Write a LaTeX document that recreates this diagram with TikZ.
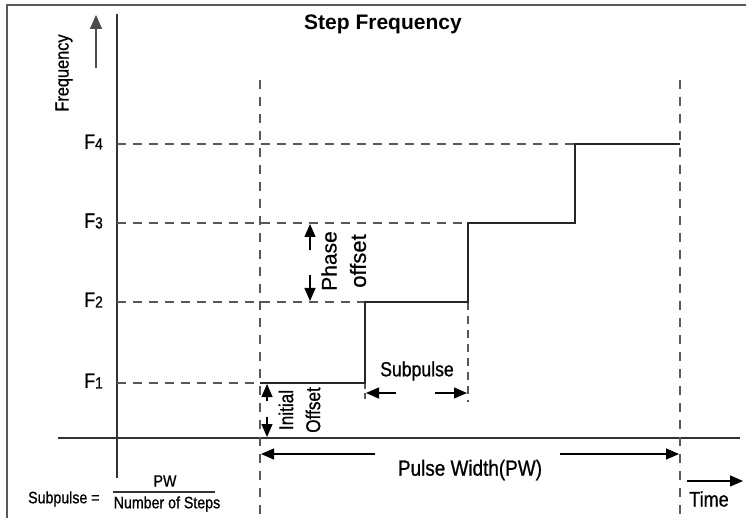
\documentclass[tikz,border=0pt]{standalone}
\usepackage{fontspec}
\setmainfont{Liberation Sans}[FakeStretch=0.86,FakeBold=0.8]
\newfontfamily\widesans{Liberation Sans}[FakeBold=0.6]
\newfontfamily\titlesans{Liberation Sans}
\usetikzlibrary{arrows.meta}
\begin{document}
\begin{tikzpicture}[x=1pt,y=-1pt,
  axis/.style={draw=black!80,line width=2.2pt},
  frame/.style={draw=black!65,line width=1.4pt},
  guide/.style={draw=black!65,line width=1.6pt,dash pattern=on 9pt off 7pt},
  vguide/.style={draw=black!65,line width=1.6pt,dash pattern=on 9pt off 8pt},
  stepline/.style={draw=black!85,line width=1.8pt},
  arr/.style={draw=black,line width=1.2pt,-{Triangle[length=13pt,width=11pt]}},
  lbl/.style={inner sep=0pt,font=\fontsize{20}{20}\selectfont},
  flbl/.style={inner sep=0pt,anchor=east,font=\fontsize{21}{21}\selectfont},
]
\useasboundingbox (0,0) rectangle (746,518);
\fill[white] (0,0) rectangle (746,518);
% frame
\coordinate (fr1) at (746,5);
\coordinate (fr2) at (7,5);
\coordinate (fr3) at (7,518);
\draw[frame] (fr1) -- (fr2) -- (fr3);
% axes
\coordinate (yTop) at (117,14);
\coordinate (yBot) at (117,478);
\coordinate (xL) at (58,438);
\coordinate (xR) at (740,438);
\draw[axis] (yTop) -- (yBot);
\draw[axis] (xL) -- (xR);
% title
\node[lbl,font=\titlesans\fontsize{21}{21}\selectfont\bfseries] (title) at (383,24) {Step Frequency};
% frequency label and arrow
\node[lbl,font=\fontsize{19}{19}\selectfont,rotate=90] (freq) at (64,73) {Frequency};
\coordinate (fa1) at (96,68);
\coordinate (fa2) at (96,15);
\draw[arr,draw=black!70,line width=1.6pt,-{Triangle[length=14pt,width=12pt]}] (fa1) -- (fa2);
% frequency level points
\coordinate (a1) at (117,383);
\coordinate (a2) at (117,302);
\coordinate (a3) at (117,223);
\coordinate (a4) at (117,144);
\node[flbl] (F1) at (103,381) {F\raisebox{-0.5pt}{\fontsize{16}{16}\selectfont 1}};
\node[flbl] (F2) at (103,300) {F\raisebox{-0.5pt}{\fontsize{16}{16}\selectfont 2}};
\node[flbl] (F3) at (103,221) {F\raisebox{-0.5pt}{\fontsize{16}{16}\selectfont 3}};
\node[flbl] (F4) at (103,142) {F\raisebox{-0.5pt}{\fontsize{16}{16}\selectfont 4}};
% step corners
\coordinate (s1) at (260,383);
\coordinate (s2) at (365,383);
\coordinate (s3) at (365,302);
\coordinate (s4) at (468,302);
\coordinate (s5) at (468,223);
\coordinate (s6) at (575,223);
\coordinate (s7) at (575,144);
\coordinate (s8) at (680,144);
\draw[guide] (a1) -- (s1);
\draw[guide] (a2) -- (s3);
\draw[guide] (a3) -- (s5);
\draw[guide] (a4) -- (s7);
% vertical guides
\coordinate (vL1) at (260,80);
\coordinate (vL2) at (260,518);
\coordinate (vR1) at (680,80);
\coordinate (vR2) at (680,518);
\draw[vguide] (vL1) -- (vL2);
\draw[vguide] (vR1) -- (vR2);
\coordinate (v3b) at (365,402);
\coordinate (v4b) at (468,402);
\draw[vguide,dash pattern=on 6pt off 4pt] (s2) -- (v3b);
\draw[vguide,dash pattern=on 8pt off 6pt] (s4) -- (v4b);
% step line
\draw[stepline] (s1) -- (s2) -- (s3) -- (s4) -- (s5) -- (s6) -- (s7) -- (s8);
% subpulse
\coordinate (sp1) at (396,393);
\coordinate (sp2) at (366,393);
\coordinate (sp3) at (435,393);
\coordinate (sp4) at (467,393);
\draw[arr] (sp1) -- (sp2);
\draw[arr] (sp3) -- (sp4);
\node[lbl,font=\fontsize{20.5}{20.5}\selectfont] (subp) at (417,371) {Subpulse};
% initial offset
\coordinate (io1) at (267,401);
\coordinate (io2) at (267,384);
\coordinate (io3) at (267,417);
\coordinate (io4) at (267,437);
\draw[arr] (io1) -- (io2);
\draw[arr] (io3) -- (io4);
\node[lbl,rotate=90,font=\fontsize{20}{20}\selectfont] (init) at (286,410) {Initial};
\node[lbl,rotate=90,font=\fontsize{20}{20}\selectfont] (offs) at (313,410) {Offset};
% phase offset
\coordinate (po1) at (310,250);
\coordinate (po2) at (310,224);
\coordinate (po3) at (310,275);
\coordinate (po4) at (310,301);
\draw[arr] (po1) -- (po2);
\draw[arr] (po3) -- (po4);
\node[lbl,rotate=90,font=\widesans\fontsize{21}{21}\selectfont] (phase) at (329,261) {Phase};
\node[lbl,rotate=90,font=\widesans\fontsize{22}{22}\selectfont] (poff) at (358,261) {offset};
% pulse width
\coordinate (pw1) at (375,454);
\coordinate (pw2) at (261,454);
\coordinate (pw3) at (560,454);
\coordinate (pw4) at (679,454);
\draw[arr] (pw1) -- (pw2);
\draw[arr] (pw3) -- (pw4);
\node[lbl,font=\fontsize{22}{22}\selectfont] (pw) at (470,470) {Pulse Width(PW)};
% time
\coordinate (t1) at (687,481);
\coordinate (t2) at (743,481);
\draw[arr] (t1) -- (t2);
\node[lbl,font=\fontsize{21}{21}\selectfont] (time) at (709,499) {Time};
% formula
\node[lbl,font=\fontsize{16.5}{16.5}\selectfont,anchor=west] (sub) at (28,499) {Subpulse =};
\coordinate (fl1) at (113,492);
\coordinate (fl2) at (215,492);
\draw[draw=black!80,line width=1.2pt] (fl1) -- (fl2);
\node[lbl,font=\fontsize{16.5}{16.5}\selectfont] (fpw) at (165,481) {PW};
\node[lbl,font=\fontsize{16.5}{16.5}\selectfont] (fns) at (167,504) {Number of Steps};
\end{tikzpicture}
\end{document}
